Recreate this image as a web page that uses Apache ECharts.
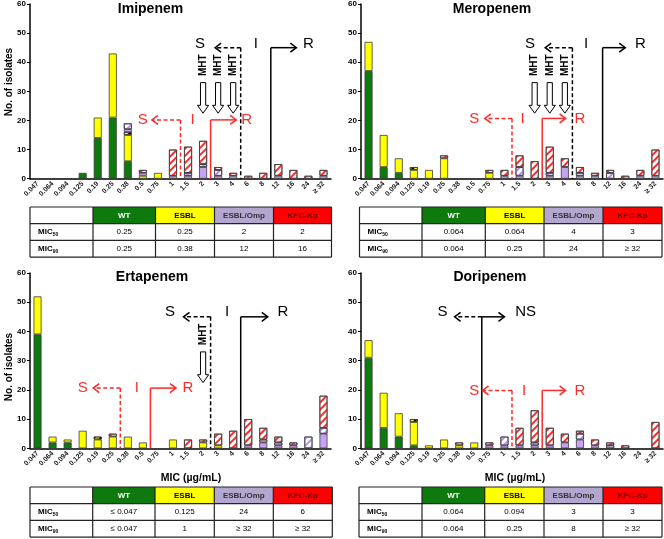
<!DOCTYPE html>
<html><head><meta charset="utf-8">
<script src="https://cdn.jsdelivr.net/npm/echarts@6/dist/echarts.min.js"></script>
<style>html,body{margin:0;padding:0;background:#fff}#c{width:664px;height:539px}</style>
</head><body><div id="c"></div>
<script>
// ---------------- DATA ----------------
const categories = ['0.047','0.064','0.094','0.125','0.19','0.25','0.38','0.5','0.75','1','1.5','2','3','4','6','8','12','16','24','≥ 32'];
const panelTitles = ['Imipenem','Meropenem','Ertapenem','Doripenem'];
const groupNames = ['WT','ESBL','ESBL/Omp','KPC-Kp'];

// Imipenem
const imiWT    = [0,0,0,2,14,21,6,0,0,0,0,0,0,0,0,0,0,0,0,0];
const imiESBL  = [0,0,0,0,7,22,9,1,2,0,0,0,0,0,0,0,0,0,0,0];
const imiESBLh = [0,0,0,0,0,0,1,0,0,0,0,0,0,0,0,0,0,0,0,0];
const imiOmp   = [0,0,0,0,0,0,1,1,0,1,1,4,1,1,0,0,1,0,0,1];
const imiOmph  = [0,0,0,0,0,0,2,0,0,0,1,1,2,0,0,0,0,0,0,0];
const imiKPC   = [0,0,0,0,0,0,0,1,0,9,9,8,1,1,1,2,4,3,1,2];
// Meropenem
const merWT    = [37,4,2,0,0,0,0,0,0,0,0,0,0,0,0,0,0,0,0,0];
const merESBL  = [10,11,5,3,3,7,0,0,2,0,0,0,0,0,0,0,0,0,0,0];
const merESBLh = [0,0,0,1,0,0,0,0,0,0,0,0,0,0,0,0,0,0,0,0];
const merOmp   = [0,0,0,0,0,0,0,0,0,1,1,0,1,4,1,1,0,0,1,1];
const merOmph  = [0,0,0,0,0,0,0,0,0,0,3,0,1,0,1,0,2,0,0,0];
const merKPC   = [0,0,0,0,0,1,0,0,1,2,4,6,9,3,2,1,1,1,2,9];
// Ertapenem
const ertWT    = [39,2,2,0,0,0,0,0,0,0,0,0,0,0,0,0,0,0,0,0];
const ertESBL  = [13,2,1,6,3,4,4,2,0,3,0,2,1,0,0,0,0,0,0,0];
const ertESBLh = [0,0,0,0,1,0,0,0,0,0,0,0,0,0,0,0,0,0,0,0];
const ertOmp   = [0,0,0,0,0,0,0,0,0,0,0,0,0,0,1,2,1,1,0,5];
const ertOmph  = [0,0,0,0,0,0,0,0,0,0,0,0,0,0,0,1,1,0,4,2];
const ertKPC   = [0,0,0,0,0,1,0,0,0,0,3,1,4,6,9,4,2,1,0,11];
// Doripenem
const dorWT    = [31,7,4,1,0,0,0,0,0,0,0,0,0,0,0,0,0,0,0,0];
const dorESBL  = [6,12,8,8,1,3,1,2,0,0,0,0,0,0,0,0,0,0,0,0];
const dorESBLh = [0,0,0,1,0,0,0,0,0,0,0,0,0,0,0,0,0,0,0,0];
const dorOmp   = [0,0,0,0,0,0,0,0,1,1,1,1,1,2,3,1,0,0,0,0];
const dorOmph  = [0,0,0,0,0,0,0,0,0,3,0,1,0,0,2,0,1,0,0,0];
const dorKPC   = [0,0,0,0,0,0,1,0,1,0,6,11,6,3,1,2,1,1,0,9];

// Table values
const imiMIC50 = ['0.25','0.25','2','2'];
const imiMIC90 = ['0.25','0.38','12','16'];
const merMIC50 = ['0.064','0.064','4','3'];
const merMIC90 = ['0.064','0.25','24','≥ 32'];
const ertMIC50 = ['≤ 0.047','0.125','24','6'];
const ertMIC90 = ['≤ 0.047','1','≥ 32','≥ 32'];
const dorMIC50 = ['0.064','0.094','3','3'];
const dorMIC90 = ['0.064','0.25','8','≥ 32'];

// ---------------- STYLE / LAYOUT ----------------
const FONT = '"Liberation Sans", Arial, sans-serif';
const GREEN = '#0e7a0e', YELLOW = '#ffff00', PURPLE = '#c6a2f5', RED = '#ff2a2a';
function stripe(c){ return {symbol:'rect', symbolSize:1, color:c, dashArrayX:[1,0], dashArrayY:[2,2.5], rotation:-Math.PI/4}; }
const seriesStyles = [
  {color:GREEN},
  {color:YELLOW},
  {color:YELLOW, decal:stripe('#000')},
  {color:PURPLE},
  {color:'#ffffff', decal:stripe('#b68cf0')},
  {color:'#ffffff', decal:stripe(RED)}
];
const panels = [
  [imiWT,imiESBL,imiESBLh,imiOmp,imiOmph,imiKPC],
  [merWT,merESBL,merESBLh,merOmp,merOmph,merKPC],
  [ertWT,ertESBL,ertESBLh,ertOmp,ertOmph,ertKPC],
  [dorWT,dorESBL,dorESBLh,dorOmp,dorOmph,dorKPC]
];
const tables = [[imiMIC50,imiMIC90],[merMIC50,merMIC90],[ertMIC50,ertMIC90],[dorMIC50,dorMIC90]];
const gridPos = [
  {left:30, top:4, width:301, height:174.7},
  {left:361, top:4, width:302, height:174.7},
  {left:30, top:273, width:301, height:175.3},
  {left:361, top:273, width:302, height:175.3}
];

const chart = echarts.init(document.getElementById('c'), null, {renderer:'canvas'});
const series = [];
panels.forEach((arrs, k) => {
  arrs.forEach((arr, g) => {
    const st = seriesStyles[g];
    series.push({
      type:'bar', xAxisIndex:k, yAxisIndex:k, stack:'s'+k, barWidth:8, silent:true,
      data: arr.map(v => v === 0 ? '-' : v),
      itemStyle: Object.assign({borderColor:'#3c3c3c', borderWidth:0.8}, st.decal ? {color:st.color, decal:st.decal} : {color:st.color})
    });
  });
});

chart.setOption({
  animation:false,
  grid: gridPos.map(g => Object.assign({containLabel:false}, g)),
  xAxis: gridPos.map((g,k) => ({
    type:'category', gridIndex:k, data:categories,
    axisLine:{lineStyle:{color:'#000', width:1.5}},
    axisTick:{length:3, lineStyle:{color:'#000'}},
    axisLabel:{rotate:45, fontSize:7, fontWeight:'bold', color:'#222', fontFamily:FONT, margin:4, interval:0}
  })),
  yAxis: gridPos.map((g,k) => ({
    type:'value', gridIndex:k, min:0, max:60, interval:10,
    splitLine:{show:false},
    axisLine:{show:true, lineStyle:{color:'#000', width:1.5}},
    axisTick:{show:true, length:3, lineStyle:{color:'#000'}},
    axisLabel:{fontSize:8, fontWeight:'bold', color:'#000', fontFamily:FONT, margin:4}
  })),
  series
});

// ---------------- ANNOTATIONS ----------------
function pt(k, f, v){
  const p0 = chart.convertToPixel({gridIndex:k}, [0, v]);
  const p1 = chart.convertToPixel({gridIndex:k}, [1, v]);
  return [p0[0] + f*(p1[0]-p0[0]), p0[1]];
}
const breakpoints = [
  {k:0, y:45, lb:13.5, lt:11.8, lx:10.8, mx:14.5, rb:15.5, rt:17.2, rx:18.0, L:'S', M:'I', R:'R', color:'#000', dy:1.3},
  {k:0, y:20.2, lb:9.5, lt:7.6, lx:7.0, mx:10.3, rb:11.5, rt:13.2, rx:13.9, L:'S', M:'I', R:'R', color:RED, dy:0},
  {k:1, y:45, lb:13.5, lt:11.7, lx:10.7, mx:14.4, rb:15.5, rt:17.0, rx:18.0, L:'S', M:'I', R:'R', color:'#000', dy:1.3},
  {k:1, y:20.7, lb:9.5, lt:7.7, lx:7.0, mx:10.2, rb:11.5, rt:13.05, rx:14.0, L:'S', M:'I', R:'R', color:RED, dy:0},
  {k:2, y:45, lb:11.5, lt:9.7, lx:8.8, mx:12.6, rb:13.5, rt:15.3, rx:16.3, L:'S', M:'I', R:'R', color:'#000', dy:1.7},
  {k:2, y:20.6, lb:5.5, lt:3.7, lx:3.0, mx:6.6, rb:7.5, rt:9.2, rx:10.0, L:'S', M:'I', R:'R', color:RED, dy:0},
  {k:3, y:45, lb:7.5, lt:5.7, lx:4.9, mx:null, rb:7.5, rt:9.0, rx:10.4, L:'S', M:'', R:'NS', color:'#000', dy:1.7},
  {k:3, y:19.8, lb:9.5, lt:7.55, lx:7.0, mx:10.3, rb:11.5, rt:13.05, rx:14.0, L:'S', M:'I', R:'R', color:RED, dy:0}
];
const mhtCats = [[11,12,13],[11,12,13],[11],[]];

const G = [];
function line(a,b,color,dashed){
  G.push({type:'line', silent:true, z:50, shape:{x1:a[0],y1:a[1],x2:b[0],y2:b[1]}, style:{stroke:color, lineWidth:1.5, lineDash: dashed ? [4,2.5] : null}});
}
function txt(x,y,s,font,color,rot,align){
  G.push({type:'text', silent:true, z:60, x:x, y:y, rotation:rot||0,
    style:{text:s, font:font, fill:color, align:align||'center', verticalAlign:'middle', textAlign:align||'center', textVerticalAlign:'middle'}});
}
function head(tip, dir, color){
  const d = 6*dir;
  G.push({type:'polyline', silent:true, z:50, shape:{points:[[tip[0]-d, tip[1]-4.5],[tip[0], tip[1]],[tip[0]-d, tip[1]+4.5]]}, style:{stroke:color, lineWidth:1.5, fill:null}});
}
breakpoints.forEach(b => {
  const k = b.k;
  const lTop = pt(k, b.lb, b.y), lBot = pt(k, b.lb, 0);
  const rTop = pt(k, b.rb, b.y), rBot = pt(k, b.rb, 0);
  if (b.lb === b.rb) {
    line(rTop, rBot, b.color, false);
  } else {
    line(lTop, lBot, b.color, true);
    line(rTop, rBot, b.color, false);
  }
  const lTip = pt(k, b.lt, b.y); line(lTop, lTip, b.color, true); head(lTip, -1, b.color);
  const rTip = pt(k, b.rt, b.y); line(rTop, rTip, b.color, false); head(rTip, 1, b.color);
  const F = '15px ' + FONT;
  const ty = b.y + b.dy;
  let p = pt(k, b.lx, ty); txt(p[0], p[1], b.L, F, b.color);
  if (b.M) { p = pt(k, b.mx, ty); txt(p[0], p[1], b.M, F, b.color); }
  p = pt(k, b.rx, ty); txt(p[0], p[1], b.R, F, b.color);
});
mhtCats.forEach((cats, k) => {
  cats.forEach(c => {
    const t = pt(k, c, 39);
    txt(t[0], t[1], 'MHT', 'bold 10px ' + FONT, '#000', Math.PI/2);
    const top = pt(k, c, 33), hs = pt(k, c, 25.2), tip = pt(k, c, 22.5);
    const x = top[0], sw = 2.6, hw = 5.6;
    G.push({type:'polygon', silent:true, z:55, shape:{points:[
      [x-sw, top[1]], [x+sw, top[1]], [x+sw, hs[1]], [x+hw, hs[1]], [x, tip[1]], [x-hw, hs[1]], [x-sw, hs[1]]
    ]}, style:{fill:'#fff', stroke:'#000', lineWidth:1}});
  });
});

// titles & axis names
const titlePos = [[150.5,9],[492,9],[152,277],[490,277]];
panelTitles.forEach((t,i) => txt(titlePos[i][0], titlePos[i][1], t, 'bold 14px ' + FONT, '#000'));
txt(9, 82, 'No. of isolates', 'bold 10px ' + FONT, '#000', Math.PI/2);
txt(9, 367, 'No. of isolates', 'bold 10px ' + FONT, '#000', Math.PI/2);
txt(191, 478, 'MIC (µg/mL)', 'bold 10.5px ' + FONT, '#000');
txt(515, 478, 'MIC (µg/mL)', 'bold 10.5px ' + FONT, '#000');

// tables
const tableBox = [
  {x:30, y:207, cols:[0,63,125.5,184.5,243.5,301.5]},
  {x:359.5, y:207, cols:[0,62.5,125.8,184.5,243.5,302.5]},
  {x:30, y:487, cols:[0,62.7,125,184.3,243.3,302.3]},
  {x:359, y:487, cols:[0,63,125.7,185,244,303]}
];
const headerFill = [GREEN, YELLOW, '#b4a7cf', '#ff0000'];
const headerText = ['#ffffff', '#000000', '#333333', '#7a0000'];
const RH = 16.7;
tableBox.forEach((tb, k) => {
  const W = tb.cols[5];
  for (let c = 0; c < 4; c++) {
    G.push({type:'rect', silent:true, z:40, shape:{x:tb.x+tb.cols[c+1], y:tb.y, width:tb.cols[c+2]-tb.cols[c+1], height:RH}, style:{fill:headerFill[c]}});
    txt(tb.x+(tb.cols[c+1]+tb.cols[c+2])/2, tb.y+RH/2, groupNames[c], 'bold 8px ' + FONT, headerText[c]);
  }
  for (let r = 0; r <= 3; r++) {
    G.push({type:'line', silent:true, z:45, shape:{x1:tb.x, y1:tb.y+r*RH, x2:tb.x+W, y2:tb.y+r*RH}, style:{stroke:'#222', lineWidth:1.2}});
  }
  for (let c = 0; c <= 5; c++) {
    G.push({type:'line', silent:true, z:45, shape:{x1:tb.x+tb.cols[c], y1:tb.y, x2:tb.x+tb.cols[c], y2:tb.y+3*RH}, style:{stroke:'#222', lineWidth:1.2}});
  }
  const rows = tables[k];
  ['50','90'].forEach((sub, r) => {
    const cy = tb.y + RH*(r+1) + RH/2;
    txt(tb.x+8, cy, 'MIC', 'bold 8px ' + FONT, '#000', 0, 'left');
    txt(tb.x+22.8, cy+2.5, sub, 'bold 5px ' + FONT, '#000', 0, 'left');
    rows[r].forEach((v, c) => {
      txt(tb.x+(tb.cols[c+1]+tb.cols[c+2])/2, cy, v, '8px ' + FONT, '#000');
    });
  });
});

chart.setOption({graphic:{elements:G}});
</script></body></html>
